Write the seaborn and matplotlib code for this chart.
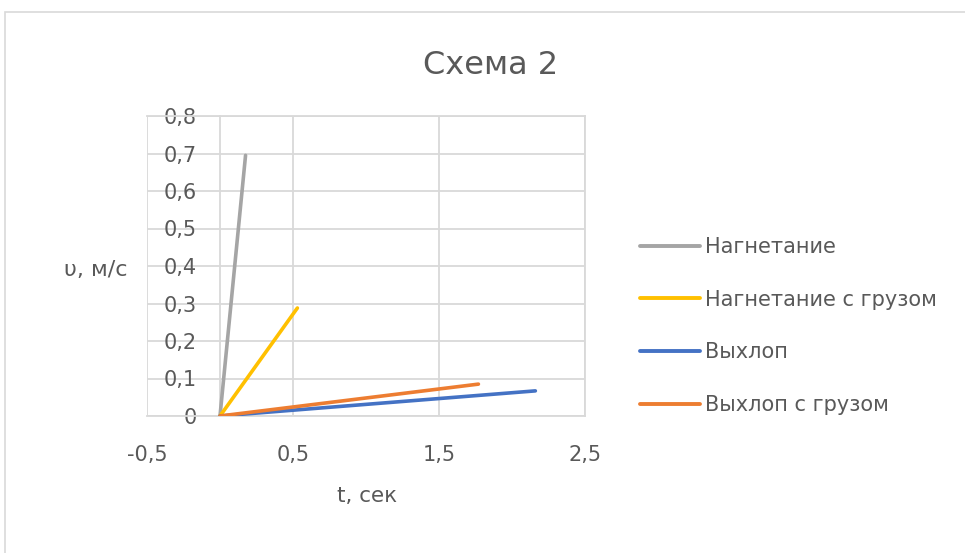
import numpy as np
import pandas as pd
import matplotlib
matplotlib.use("Agg")
import matplotlib.pyplot as plt
from matplotlib.ticker import FuncFormatter, FixedLocator
from matplotlib.patches import Rectangle
import seaborn as sns

# Series: start and end of each run (time, speed)
series_names = ["Нагнетание", "Нагнетание с грузом", "Выхлоп", "Выхлоп с грузом"]
t_nagnetanie = [0.0, 0.175]
v_nagnetanie = [0.0, 0.695]
t_nagnetanie_gruz = [0.0, 0.53]
v_nagnetanie_gruz = [0.0, 0.288]
t_vykhlop = [0.0, 2.16]
v_vykhlop = [0.0, 0.067]
t_vykhlop_gruz = [0.0, 1.77]
v_vykhlop_gruz = [0.0, 0.085]

x_ticks = [-0.5, 0.5, 1.5, 2.5]
y_ticks = [0.0, 0.1, 0.2, 0.3, 0.4, 0.5, 0.6, 0.7, 0.8]

colors = ["#A5A5A5", "#FFC000", "#4472C4", "#ED7D31"]

frames = []
for name, t, v in zip(series_names,
                      [t_nagnetanie, t_nagnetanie_gruz, t_vykhlop, t_vykhlop_gruz],
                      [v_nagnetanie, v_nagnetanie_gruz, v_vykhlop, v_vykhlop_gruz]):
    frames.append(pd.DataFrame({"t": t, "v": v, "series": name}))
df = pd.concat(frames, ignore_index=True)

sns.set_theme(style="white")
plt.rcParams["font.family"] = ["DejaVu Sans"]

text_color = "#595959"
grid_color = "#D9D9D9"

fig = plt.figure(figsize=(9.65, 5.53), dpi=100)
fig.patch.set_facecolor("white")
fig.patches.append(Rectangle((5 / 965, -0.05), 1.1, 1 - 12 / 553 + 0.05,
                             transform=fig.transFigure, fill=False,
                             edgecolor="#D9D9D9", linewidth=1.2, zorder=0))

ax = fig.add_axes([147 / 965, 1 - 416 / 553, (585 - 147) / 965, (416 - 116) / 553])

sns.lineplot(data=df, x="t", y="v", hue="series", hue_order=series_names,
             palette=colors, linewidth=2.6, sort=False, estimator=None,
             ax=ax, legend=False, zorder=3)

ax.set_xlim(-0.5, 2.5)
ax.set_ylim(0, 0.8)
ax.xaxis.set_major_locator(FixedLocator(x_ticks))
ax.yaxis.set_major_locator(FixedLocator(y_ticks))

fmt = FuncFormatter(lambda v, p: ("%g" % round(v, 2)).replace(".", ","))
ax.xaxis.set_major_formatter(fmt)
ax.yaxis.set_major_formatter(fmt)

ax.grid(True, color=grid_color, linewidth=1.3, zorder=0)
for side in ["top", "right", "bottom", "left"]:
    ax.spines[side].set_color(grid_color)
    ax.spines[side].set_linewidth(1.3)
ax.spines["left"].set_position(("data", 0))
ax.spines["left"].set_zorder(1)

ax.tick_params(axis="y", length=0, pad=17, labelsize=15, labelcolor=text_color)
ax.tick_params(axis="x", length=0, pad=21, labelsize=15, labelcolor=text_color)
ax.set_xlabel("")
ax.set_ylabel("")

fig.text(367 / 965, 1 - 496 / 553, "t, сек", ha="center", va="center",
         fontsize=15.5, color=text_color)
fig.text(96 / 965, 1 - 270 / 553, "υ, м/с", ha="center", va="center",
         fontsize=16, color=text_color)
fig.text(491 / 965, 1 - 66 / 553, "Схема 2", ha="center", va="center",
         fontsize=23, color=text_color)

handles = [plt.Line2D([], [], color=c, linewidth=2.8) for c in colors]
leg = fig.legend(handles, series_names, loc="upper left",
                 bbox_to_anchor=(640 / 965, 1 - 237 / 553), frameon=False,
                 fontsize=15, handlelength=2.9, handletextpad=0.2,
                 labelspacing=1.57, borderaxespad=0, borderpad=0)
for txt in leg.get_texts():
    txt.set_color(text_color)

fig.savefig("out.png", dpi=100, facecolor="white")
